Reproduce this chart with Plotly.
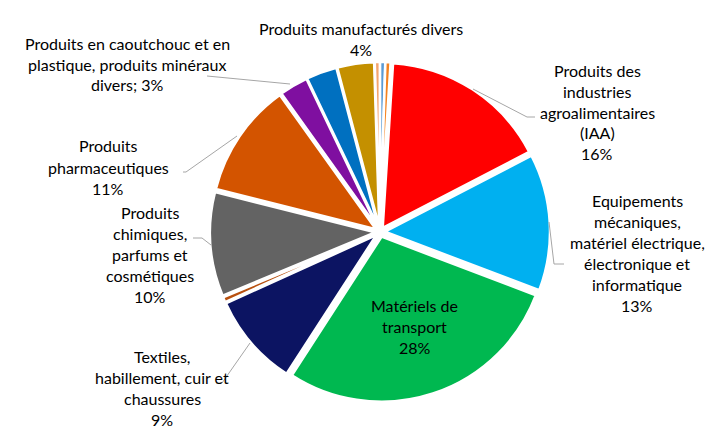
import plotly.graph_objects as go

W, H = 713, 438

# ---- data (clockwise from 12 o'clock) ----
categories = [
    "Produits des industries agroalimentaires (IAA)",
    "Equipements mécaniques, matériel électrique, électronique et informatique",
    "Matériels de transport",
    "Textiles, habillement, cuir et chaussures",
    "Autre (a)",
    "Produits chimiques, parfums et cosmétiques",
    "Produits pharmaceutiques",
    "Produits en caoutchouc et en plastique, produits minéraux divers",
    "Autre (b)",
    "Produits manufacturés divers",
    "Autre (c)",
    "Autre (d)",
    "Autre (e)",
]
values = [16.4, 13.4, 28.4, 9.1, 0.5, 10.2, 11.2, 2.8, 3.0, 3.6, 0.5, 0.5, 0.5]
label_lines = [
    ["Produits des", "industries", "agroalimentaires", "(IAA)", "{p}%"],
    ["Equipements", "mécaniques,", "matériel électrique,", "électronique et", "informatique", "{p}%"],
    ["Matériels de", "transport", "{p}%"],
    ["Textiles,", "habillement, cuir et", "chaussures", "{p}%"],
    None,
    ["Produits", "chimiques,", "parfums et", "cosmétiques", "{p}%"],
    ["Produits", "pharmaceutiques", "{p}%"],
    ["Produits en caoutchouc et en", "plastique, produits minéraux", "divers; {p}%"],
    None,
    ["Produits manufacturés divers", "{p}%"],
    None,
    None,
    None,
]

# ---- styling ----
colors = ["#FF0000", "#00B0F0", "#00B850", "#0C1462", "#B8500F", "#636363",
          "#D35400", "#7F0FA0", "#0070C0", "#C49000", "#F4A46E", "#5B9BD5", "#F5821F"]
FONT = "Lato"
FS = 16
LINE_H = 21
label_pos = {0: (597, 70), 1: (637, 200), 2: (415, 305), 3: (162, 356),
             5: (150, 212), 6: (108, 146), 7: (127, 43), 9: (361, 29)}
leaders = [
    [(473, 89), (527, 117), (535, 117)],
    [(549, 222), (554, 264), (564, 264)],
    [(250, 343), (222, 383), (216, 383)],
    [(193, 238), (202, 238), (211, 245)],
    [(183, 172), (186, 172), (237, 136)],
    [(207, 76), (290, 84)],
]

def px(x, y):
    return x / W, 1 - y / H

total = sum(values)
pcts = [round(v / total * 100) for v in values]

# pie box (pixels): left, right, top, bottom
PL, PR, PT, PB = 210, 550, 62, 402

fig = go.Figure(go.Pie(
    labels=categories,
    values=values,
    sort=False,
    direction="clockwise",
    rotation=3.6,
    marker=dict(colors=colors, line=dict(color="white", width=2.5)),
    pull=0.03,
    textinfo="none",
    hoverinfo="label+percent",
    domain=dict(x=[PL / W, PR / W], y=[1 - PB / H, 1 - PT / H]),
    showlegend=False,
))

annotations = []
for i, lines in enumerate(label_lines):
    if lines is None:
        continue
    cx, y0 = label_pos[i]
    for k, ln in enumerate(lines):
        X, Y = px(cx, y0 + k * LINE_H)
        annotations.append(dict(
            x=X, y=Y, xref="paper", yref="paper", xanchor="center", yanchor="middle",
            text=ln.format(p=pcts[i]), showarrow=False,
            font=dict(family=FONT, size=FS, color="#000000"),
        ))

shapes = []
for pts in leaders:
    for (x1, y1), (x2, y2) in zip(pts[:-1], pts[1:]):
        X1, Y1 = px(x1, y1)
        X2, Y2 = px(x2, y2)
        shapes.append(dict(type="line", xref="paper", yref="paper",
                           x0=X1, y0=Y1, x1=X2, y1=Y2,
                           line=dict(color="#A6A6A6", width=1)))

fig.update_layout(
    width=W, height=H,
    margin=dict(l=0, r=0, t=0, b=0),
    paper_bgcolor="white",
    plot_bgcolor="white",
    annotations=annotations,
    shapes=shapes,
)

fig.write_html("out.html", config={"displayModeBar": False},
               post_script="document.body.style.margin='0';")
